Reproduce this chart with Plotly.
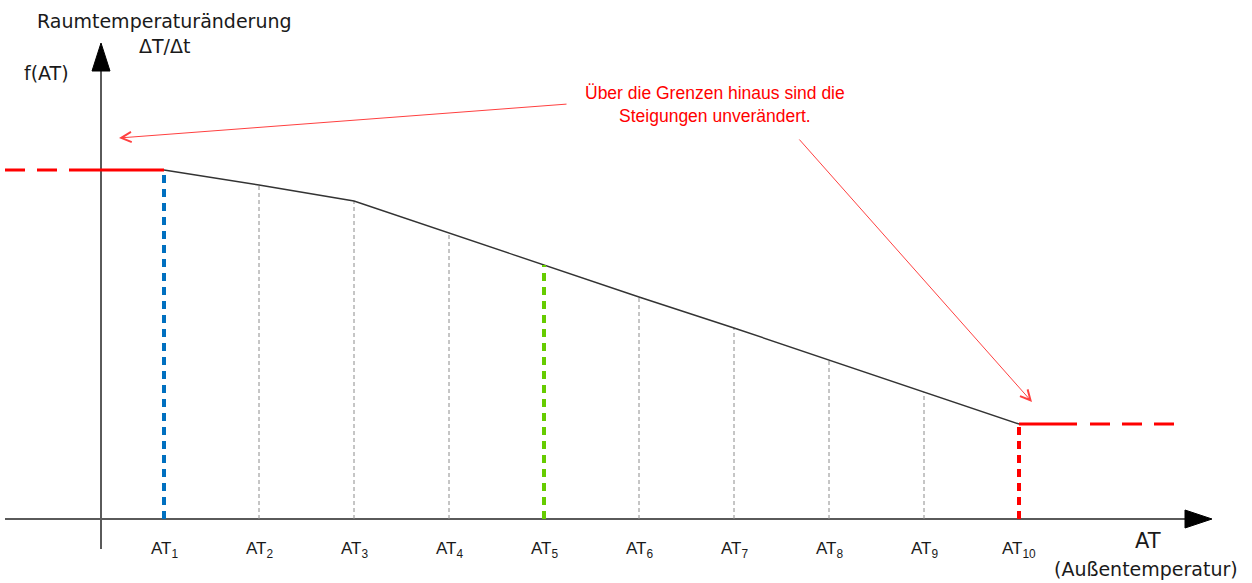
import plotly.graph_objects as go

# ---------------- data ----------------
tick_labels = ["AT<sub>1</sub>", "AT<sub>2</sub>", "AT<sub>3</sub>", "AT<sub>4</sub>", "AT<sub>5</sub>",
               "AT<sub>6</sub>", "AT<sub>7</sub>", "AT<sub>8</sub>", "AT<sub>9</sub>", "AT<sub>10</sub>"]
at_index = [1, 2, 3, 4, 5, 6, 7, 8, 9, 10]
f_values = [349, 334, 318, 286, 254, 222, 191, 159, 127, 95]
highlight_index = [1, 5, 10]
highlight_colors = ["#0070C0", "#66CC00", "#FF0000"]

# ---------------- layout helpers (pixel -> data) ----------------
W, H = 1252, 583
X0_PX, DX_PX, BASE_PY = 164, 95, 519


def px2x(px):
    return (px - X0_PX) / DX_PX + 1


def py2y(py):
    return BASE_PY - py


fig = go.Figure()

# thin grey dashed drop lines
gx, gy = [], []
for i, v in zip(at_index, f_values):
    if i in highlight_index:
        continue
    gx += [i, i, None]
    gy += [0, v, None]
fig.add_trace(go.Scatter(x=gx, y=gy, mode="lines",
                         line=dict(color="#8c8c8c", width=1, dash="4px,3px"),
                         hoverinfo="skip"))

# main curve
fig.add_trace(go.Scatter(x=at_index, y=f_values, mode="lines",
                         line=dict(color="#333333", width=1.4), hoverinfo="skip"))

# coloured drop lines
for i, c in zip(highlight_index, highlight_colors):
    v = f_values[at_index.index(i)]
    fig.add_trace(go.Scatter(x=[i, i], y=[0, v], mode="lines",
                             line=dict(color=c, width=4, dash="8px,6px"),
                             hoverinfo="skip"))

# red horizontal limits (continuation beyond the borders)
red = "#FF0000"
fig.add_trace(go.Scatter(x=[px2x(69), at_index[0]], y=[f_values[0], f_values[0]], mode="lines",
                         line=dict(color=red, width=3), hoverinfo="skip"))
fig.add_trace(go.Scatter(x=[px2x(5), px2x(60)], y=[f_values[0], f_values[0]], mode="lines",
                         line=dict(color=red, width=3, dash="20px,12px"), hoverinfo="skip"))
fig.add_trace(go.Scatter(x=[at_index[-1], px2x(1077)], y=[f_values[-1], f_values[-1]], mode="lines",
                         line=dict(color=red, width=3), hoverinfo="skip"))
fig.add_trace(go.Scatter(x=[px2x(1090), px2x(1175)], y=[f_values[-1], f_values[-1]], mode="lines",
                         line=dict(color=red, width=3, dash="20px,12px"), hoverinfo="skip"))

# ---------------- axes drawn as arrows ----------------
axis_col = "#5a5a5a"
yx = px2x(101)
shapes = [
    dict(type="line", xref="x", yref="y", x0=px2x(5), x1=px2x(1190), y0=0, y1=0,
         line=dict(color=axis_col, width=2), layer="below"),
    dict(type="line", xref="x", yref="y", x0=yx, x1=yx, y0=py2y(549), y1=py2y(68),
         line=dict(color=axis_col, width=2), layer="below"),
    dict(type="path", xref="x", yref="y",
         path=f"M {px2x(1212)},0 L {px2x(1185)},9 L {px2x(1185)},-9 Z",
         fillcolor="black", line=dict(color="black", width=1)),
    dict(type="path", xref="x", yref="y",
         path=f"M {yx},{py2y(43)} L {px2x(92)},{py2y(71)} L {px2x(110)},{py2y(71)} Z",
         fillcolor="black", line=dict(color="black", width=1)),
]

annotations = []
big_font = dict(family="DejaVu Sans", size=19, color="#1a1a1a")
annotations.append(dict(x=px2x(164), y=py2y(21), text="Raumtemperaturänderung",
                        font=big_font, showarrow=False, xanchor="center", yanchor="middle"))
annotations.append(dict(x=px2x(164), y=py2y(46), text="ΔT/Δt",
                        font=big_font, showarrow=False, xanchor="center", yanchor="middle"))
annotations.append(dict(x=px2x(46), y=py2y(73), text="f(AT)",
                        font=big_font, showarrow=False, xanchor="center", yanchor="middle"))
annotations.append(dict(x=px2x(1148), y=py2y(541), text="AT",
                        font=dict(family="DejaVu Sans", size=21, color="#1a1a1a"),
                        showarrow=False, xanchor="center", yanchor="middle"))
annotations.append(dict(x=px2x(1146), y=py2y(569), text="(Außentemperatur)",
                        font=big_font, showarrow=False, xanchor="center", yanchor="middle"))

# tick labels
for i, t in zip(at_index, tick_labels):
    annotations.append(dict(x=i, y=py2y(550), text=t, showarrow=False,
                            font=dict(family="Liberation Sans, Arial", size=17, color="#1a1a1a"),
                            xanchor="center", yanchor="middle"))

# red note
annotations.append(dict(x=px2x(715), y=py2y(104),
                        text="Über die Grenzen hinaus sind die<br>Steigungen unverändert.",
                        showarrow=False, font=dict(family="Liberation Sans, Arial", size=17.5, color=red),
                        xanchor="center", yanchor="middle", align="center"))
arrow_col = "#FF4040"
annotations.append(dict(x=px2x(119), y=py2y(138), ax=px2x(568), ay=py2y(104),
                        xref="x", yref="y", axref="x", ayref="y", text="", showarrow=True,
                        font=dict(size=10), arrowhead=5, arrowsize=2, arrowwidth=1,
                        arrowcolor=arrow_col))
annotations.append(dict(x=px2x(1032), y=py2y(402), ax=px2x(798), ay=py2y(138),
                        xref="x", yref="y", axref="x", ayref="y", text="", showarrow=True,
                        font=dict(size=10), arrowhead=5, arrowsize=2, arrowwidth=1,
                        arrowcolor=arrow_col))

fig.update_layout(
    width=W, height=H, margin=dict(l=0, r=0, t=0, b=0),
    paper_bgcolor="white", plot_bgcolor="white", showlegend=False,
    xaxis=dict(range=[px2x(0), px2x(W)], visible=False, fixedrange=True),
    yaxis=dict(range=[py2y(H), py2y(0)], visible=False, fixedrange=True),
    shapes=shapes, annotations=annotations,
)

fig.write_html("out.html", config={"displayModeBar": False},
               post_script="document.body.style.margin='0';")
